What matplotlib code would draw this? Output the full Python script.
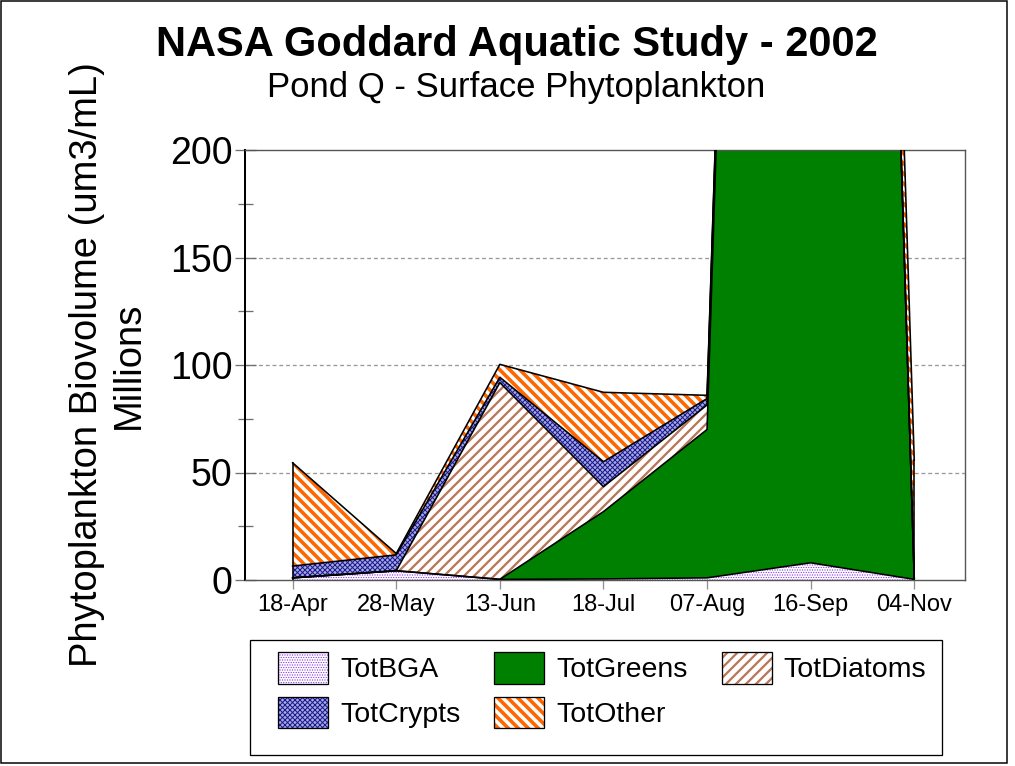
import matplotlib
matplotlib.use("Agg")
import matplotlib.pyplot as plt
import numpy as np
from matplotlib.patches import Patch, Rectangle
from matplotlib.ticker import MultipleLocator

plt.rcParams['font.family'] = ['Liberation Sans', 'DejaVu Sans']

DPI = 120
W, H = 1015, 766


def F(pt100):
    """size in points as if at dpi 100 -> points at DPI"""
    return pt100 * 100.0 / DPI


def PX(px):
    return px * 72.0 / DPI


dates = ['18-Apr', '28-May', '13-Jun', '18-Jul', '07-Aug', '16-Sep', '04-Nov']
tot_bga = [1.0, 4.3, 0.3, 0.5, 1.0, 8.0, 0.3]
tot_greens = [0.0, 0.0, 0.0, 31.3, 69.0, 1550.0, 0.5]
tot_diatoms = [0.0, 0.0, 91.5, 11.6, 11.4, 0.0, 0.0]
tot_crypts = [5.5, 7.4, 2.5, 11.6, 3.0, 0.0, 0.0]
tot_other = [48.0, 0.6, 6.0, 32.3, 1.5, 0.0, 55.0]

series_names = ['TotBGA', 'TotGreens', 'TotDiatoms', 'TotCrypts', 'TotOther']
series_vals = [tot_bga, tot_greens, tot_diatoms, tot_crypts, tot_other]
# (facecolor, hatch colour, hatch pattern, hatch linewidth in px)
styles = [
    ('white', '#8A3CF0', '........', 0.8),
    ('#008000', '#008000', None, 1.0),
    ('white', '#B8785A', '////', 2.3),
    ('#A8A8E4', '#1A1A8C', 'xxxxxxxx', 1.0),
    ('white', '#FF6600', '\\\\\\\\', 3.6),
]
hatch_lw = {s[2]: PX(s[3]) for s in styles if s[2] is not None}


def apply_hatch_lw(artist, lw):
    if hasattr(artist, 'set_hatch_linewidth'):
        try:
            artist.set_hatch_linewidth(lw)
        except Exception:
            pass
    orig = artist.draw

    def draw(renderer, *a, _orig=orig, _lw=lw, **k):
        with plt.rc_context({'hatch.linewidth': _lw}):
            return _orig(renderer, *a, **k)
    artist.draw = draw


fig = plt.figure(figsize=(W / DPI, H / DPI), dpi=DPI)
ax = fig.add_axes([245 / W, 1 - 580 / H, (965 - 245) / W, (580 - 150) / H])

x = np.arange(len(dates))
bottom = np.zeros(len(dates))
handles = {}
for name, vals, (fc, hc, h, hlw) in zip(series_names, series_vals, styles):
    top = bottom + np.array(vals, dtype=float)
    with plt.rc_context({'hatch.linewidth': PX(hlw)}):
        coll = ax.fill_between(x, bottom, top, facecolor=fc, edgecolor=hc,
                               hatch=h, linewidth=0, zorder=2)
        p1 = Patch(facecolor=fc, edgecolor=hc, hatch=h, linewidth=0)
    if h is not None:
        apply_hatch_lw(coll, PX(hlw))
    ax.plot(x, top, color='black', lw=PX(1.6), zorder=3)
    p2 = Patch(facecolor='none', edgecolor='black', linewidth=PX(1.3))
    handles[name] = (p1, p2)
    bottom = top

total = bottom
ax.plot([x[0], x[0]], [0, total[0]], color='black', lw=PX(1.6), zorder=3)
ax.plot([x[-1], x[-1]], [0, total[-1]], color='black', lw=PX(1.6), zorder=3)

ax.set_xlim(-0.46, 6.49)
ax.set_ylim(0, 200)
ax.yaxis.set_major_locator(MultipleLocator(50))
ax.yaxis.set_minor_locator(MultipleLocator(25))
ax.set_xticks(x)
ax.set_xticklabels(dates, fontsize=F(17))
ax.tick_params(axis='y', which='major', direction='inout', length=PX(21),
               width=PX(1.3), color='#707070', labelsize=F(27), pad=PX(2))
ax.tick_params(axis='y', which='minor', direction='inout', length=PX(15),
               width=PX(1.3), color='#707070')
ax.tick_params(axis='x', which='major', direction='out', length=PX(9),
               width=PX(1.3), color='#909090', pad=PX(5))

for yv in [50, 100, 150]:
    ax.axhline(yv, color='#999999', lw=PX(1.3), ls=(0, (3, 2.2)), zorder=1)

ax.spines['left'].set_color('black')
ax.spines['left'].set_linewidth(PX(2))
for s in ['top', 'right', 'bottom']:
    ax.spines[s].set_color('#555555')
    ax.spines[s].set_linewidth(PX(1.4))

fig.text(0.5089, 1 - 45 / H, 'NASA Goddard Aquatic Study - 2002', ha='center',
         va='center', fontsize=F(30), fontweight='bold')
fig.text(0.5089, 1 - 87 / H, 'Pond Q - Surface Phytoplankton', ha='center',
         va='center', fontsize=F(25))
fig.text(0.106, 1 - 365 / H, 'Phytoplankton Biovolume (um3/mL)\nMillions',
         rotation=90, ha='center', va='center', fontsize=F(27.5),
         multialignment='center', linespacing=1.2)

# legend filled row-wise like the original (matplotlib fills column-wise)
order = ['TotBGA', 'TotCrypts', 'TotGreens', 'TotOther', 'TotDiatoms']
leg_fs = F(20.5)
em = 20.5 / 0.72
leg = fig.legend([handles[n] for n in order], order, ncol=3, loc='upper left',
                 bbox_to_anchor=(278 / W, 1 - 652 / H), fontsize=leg_fs,
                 frameon=False, handlelength=50 / em, handleheight=38 / em,
                 handletextpad=12 / em, labelspacing=13 / em,
                 columnspacing=34 / em, borderpad=0, borderaxespad=0)
for a in leg.findobj(lambda o: hasattr(o, 'get_hatch') and o.get_hatch()):
    apply_hatch_lw(a, hatch_lw.get(a.get_hatch(), PX(1)))

fig.add_artist(Rectangle((250 / W, 1 - 755 / H), (942 - 250) / W, (755 - 640) / H,
                         transform=fig.transFigure, fill=False,
                         edgecolor='black', lw=PX(1.3)))
fig.add_artist(Rectangle((1 / W, 3 / H), (1007 - 1) / W, (H - 4) / H,
                         transform=fig.transFigure, fill=False,
                         edgecolor='black', lw=PX(1.5)))

fig.savefig('out.png', dpi=DPI)
